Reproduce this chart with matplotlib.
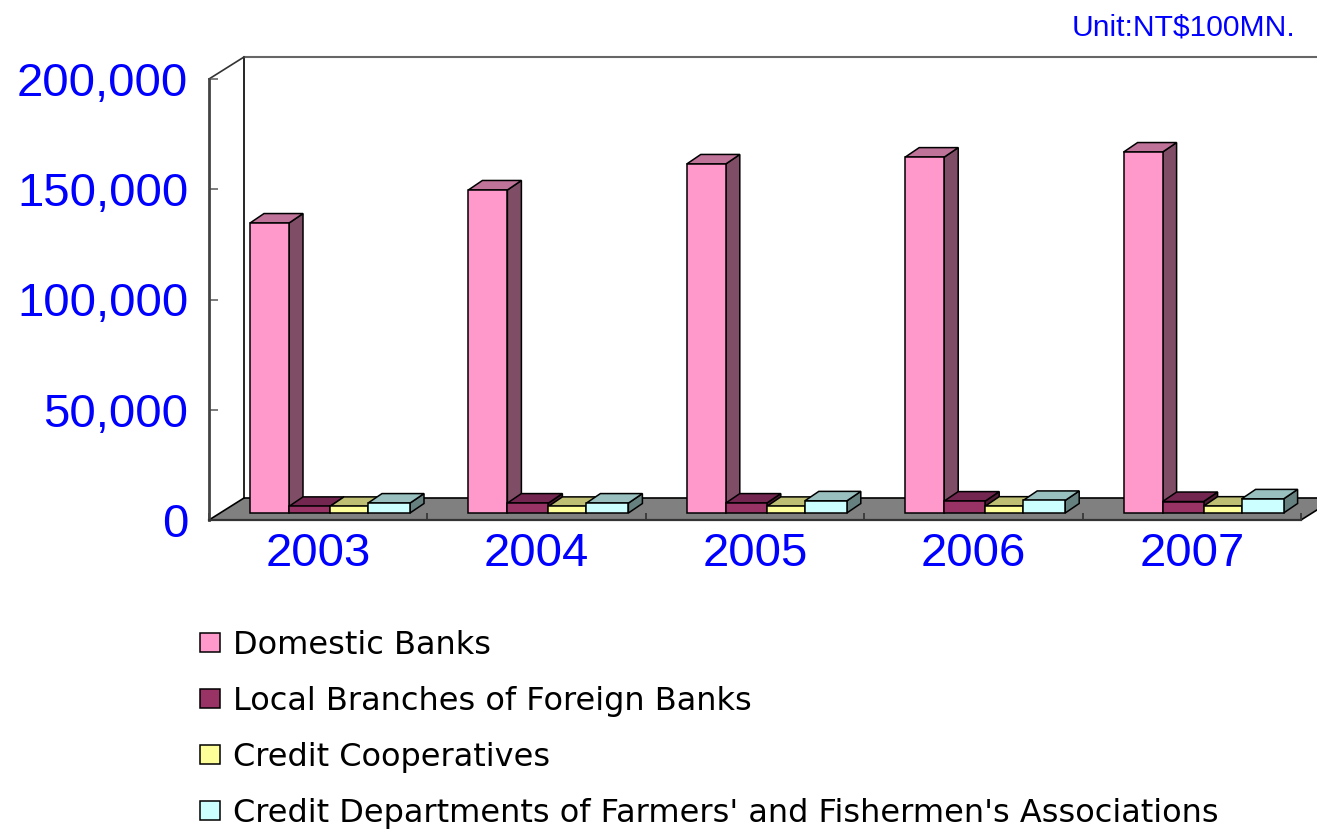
#!/usr/bin/env python3
"""Deposits by institution type, Excel-style 3D columns drawn on a flat axes."""

import matplotlib
matplotlib.use('Agg')
import matplotlib.pyplot as plt
from matplotlib.patches import Patch, Polygon

plt.rcParams['font.family'] = ['Liberation Sans', 'DejaVu Sans']

years = ['2003', '2004', '2005', '2006', '2007']
domestic = [131500, 146500, 158300, 161400, 163700]
foreign = [3000, 4500, 4500, 5400, 5200]
coop = [3000, 3000, 3000, 3100, 3100]
farmers = [4500, 4500, 5500, 5700, 6400]
yticks = [0, 50000, 100000, 150000, 200000]

names = ['Domestic Banks', 'Local Branches of Foreign Banks', 'Credit Cooperatives',
         "Credit Departments of Farmers' and Fishermen's Associations"]
series = [domestic, foreign, coop, farmers]

# front, top, side faces
faces = [('#FF99CC', '#BF7399', '#804D66'),
         ('#993366', '#732650', '#4D1A33'),
         ('#FFFF99', '#BFBF73', '#80804D'),
         ('#CCFFFF', '#99BFBF', '#668080')]

W, H = 1317, 831
fig = plt.figure(figsize=(W / 100, H / 100), dpi=100)
ax = fig.add_axes([209 / W, 1 - 520 / H, 1092 / W, 441 / H])
ax.set_xlim(0, 5)
ax.set_ylim(0, 200000)

px_x = 5 / 1092        # one pixel in x data units
px_y = 200000 / 441    # one pixel in y data units

# wall / floor depth
dx, dy = 35 * px_x, 22 * px_y
ax.add_patch(Polygon([(0, 0), (5, 0), (5 + dx, dy), (dx, dy)], closed=True,
                     facecolor='#808080', edgecolor='black', lw=1.2,
                     clip_on=False, zorder=1))
ax.plot([dx, dx], [dy, 200000 + dy], color='black', lw=1.2, clip_on=False, zorder=1.5)
ax.plot([dx, 5 + dx], [200000 + dy, 200000 + dy], color='#666666', lw=1.5, clip_on=False, zorder=1.5)
ax.plot([0, dx], [200000, 200000 + dy], color='#333333', lw=1.2, clip_on=False, zorder=1.5)

# bars
widths = [39 * px_x, 41 * px_x, 38 * px_x, 42 * px_x]
lead = 41 * px_x
base = 7 * px_y
bdx, bdy = 14 * px_x, 9.5 * px_y
z = 3
for i in range(len(years)):
    x0 = i + lead
    for j, vals in enumerate(series):
        v = vals[i]
        front, top, side = faces[j]
        x1 = x0 + widths[j]
        y1 = base + v
        ax.add_patch(Polygon([(x1, base), (x1 + bdx, base + bdy), (x1 + bdx, y1 + bdy), (x1, y1)],
                             closed=True, facecolor=side, edgecolor='black', lw=1.1, zorder=z, clip_on=False))
        ax.add_patch(Polygon([(x0, y1), (x1, y1), (x1 + bdx, y1 + bdy), (x0 + bdx, y1 + bdy)],
                             closed=True, facecolor=top, edgecolor='black', lw=1.1, zorder=z, clip_on=False))
        ax.bar(x0, v, width=widths[j], bottom=base, align='edge', color=front,
               edgecolor='black', lw=1.1, zorder=z + 0.5)
        x0 = x1
        z += 1

for s in ['top', 'right']:
    ax.spines[s].set_visible(False)
ax.spines['left'].set_color('#444444')
ax.spines['left'].set_linewidth(2.0)
ax.spines['bottom'].set_color('#333333')
ax.spines['bottom'].set_linewidth(1.6)
ax.spines['left'].set_zorder(50)
ax.spines['bottom'].set_zorder(50)

ax.set_yticks(yticks)
ax.set_yticklabels([f'{v:,}' for v in yticks])
ax.tick_params(axis='y', direction='in', length=6.5, width=1.2, color='#666666',
               labelsize=34, labelcolor='#0000FF', pad=15)
ax.set_xticks(range(6))
ax.set_xticklabels([])
ax.tick_params(axis='x', direction='in', length=5, width=1.2, color='#333333')
for i, yr in enumerate(years):
    ax.annotate(yr, (i + 0.5, 0), xytext=(0, -34), textcoords='offset pixels',
                ha='center', va='center', fontsize=34, color='#0000FF', annotation_clip=False)

# DejaVu is wide enough to match the stretched legend text without running off the bottom
handles = [Patch(facecolor=f[0], edgecolor='black', lw=1.1) for f in faces]
fig.legend(handles, names, loc='upper left', bbox_to_anchor=(200 / W, 1 - 630 / H),
           frameon=False, prop={'family': 'DejaVu Sans', 'size': 23}, labelspacing=0.78,
           handlelength=0.62, handleheight=0.53, handletextpad=0.41, borderpad=0, borderaxespad=0)

fig.text(1295 / W, 1 - 27 / H, 'Unit:NT$100MN.', ha='right', va='center',
         fontsize=21.6, color='#0000FF')

fig.savefig('out.png', dpi=100)
